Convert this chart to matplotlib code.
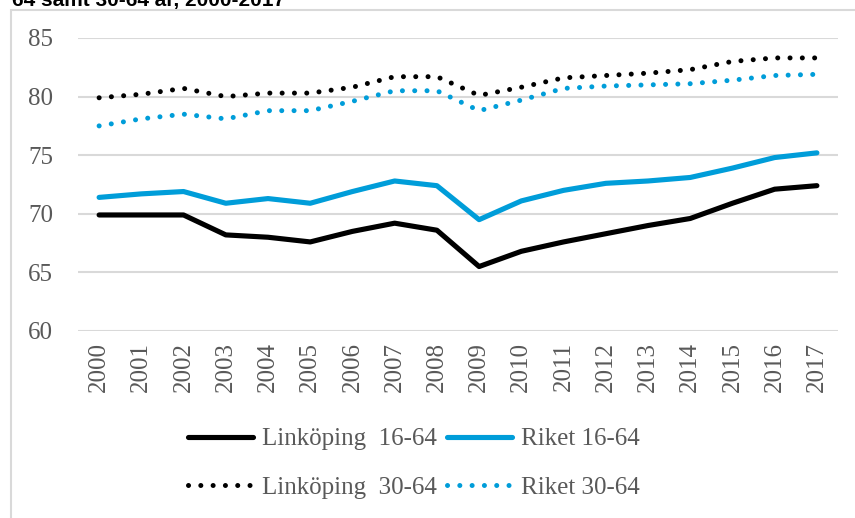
import matplotlib
matplotlib.use("Agg")
import matplotlib.pyplot as plt
from matplotlib.patches import Rectangle

years = [str(y) for y in range(2000, 2018)]
linkoping_16_64 = [69.9, 69.9, 69.9, 68.2, 68.0, 67.6, 68.5, 69.2, 68.6, 65.5,
                   66.8, 67.6, 68.3, 69.0, 69.6, 70.9, 72.1, 72.4]
riket_16_64 = [71.4, 71.7, 71.9, 70.9, 71.3, 70.9, 71.9, 72.8, 72.4, 69.5,
               71.1, 72.0, 72.6, 72.8, 73.1, 73.9, 74.8, 75.2]
linkoping_30_64 = [79.9, 80.2, 80.7, 80.0, 80.3, 80.3, 80.8, 81.7, 81.7, 80.1,
                   80.8, 81.6, 81.8, 82.0, 82.3, 83.0, 83.3, 83.3]
riket_30_64 = [77.5, 78.1, 78.5, 78.1, 78.8, 78.8, 79.6, 80.5, 80.5, 78.8,
               79.7, 80.7, 80.9, 81.0, 81.1, 81.4, 81.8, 81.9]
y_ticks = [60, 65, 70, 75, 80, 85]

BLUE = "#009DD9"
GREY_TXT = "#595959"
GRID = "#D9D9D9"
SERIF = "Liberation Serif"

fig = plt.figure(figsize=(8.55, 5.18), dpi=100)
ax = fig.add_axes([78/855, 1-331/518, (838-78)/855, (331-38)/518])

x = list(range(len(years)))
dot = (0, (0.01, 2.45))
l1, = ax.plot(x, linkoping_16_64, color="black", lw=3.7, solid_capstyle="round",
              solid_joinstyle="round", label="Linköping  16-64")
l2, = ax.plot(x, riket_16_64, color=BLUE, lw=3.7, solid_capstyle="round",
              solid_joinstyle="round", label="Riket 16-64")
l3, = ax.plot(x, linkoping_30_64, color="black", lw=3.6, linestyle=dot,
              dash_capstyle="round", label="Linköping  30-64")
l4, = ax.plot(x, riket_30_64, color=BLUE, lw=3.6, linestyle=dot,
              dash_capstyle="round", label="Riket 30-64")

ax.set_xlim(-0.5, len(years) - 0.5)
ax.set_ylim(60, 85)
ax.set_yticks(y_ticks)
ax.set_xticks(x)
ax.set_xticklabels(years, rotation=90)
for lab in ax.get_xticklabels() + ax.get_yticklabels():
    lab.set_fontfamily(SERIF)
    lab.set_fontsize(18)
    lab.set_color(GREY_TXT)
ax.tick_params(axis="y", length=0, pad=18)
ax.tick_params(axis="x", length=0, pad=8)
ax.grid(axis="y", color=GRID, lw=1.5)
ax.set_axisbelow(True)
for s in ax.spines.values():
    s.set_visible(False)

leg = fig.legend([l1, l3, l2, l4],
                 [l1.get_label(), l3.get_label(), l2.get_label(), l4.get_label()],
                 ncol=2, loc="center", bbox_to_anchor=(414/855, 1-463.5/518),
                 frameon=False, borderpad=0, borderaxespad=0,
                 handlelength=2.6, handletextpad=0.35, columnspacing=0.4,
                 labelspacing=1.05, prop={"family": SERIF, "size": 18})
for t in leg.get_texts():
    t.set_color(GREY_TXT)

# outer chart frame (light grey)
fig.patches.append(Rectangle((11/855, -0.05), 1.2, 1-10/518+0.05,
                             transform=fig.transFigure, fill=False,
                             edgecolor=GRID, lw=1.5, zorder=0))

fig.text(12/855, 1-6/518, "64 samt 30-64 år, 2000-2017", fontsize=15,
         fontweight="bold", family="Liberation Sans", va="baseline", ha="left")

fig.savefig("out.png", dpi=100)
